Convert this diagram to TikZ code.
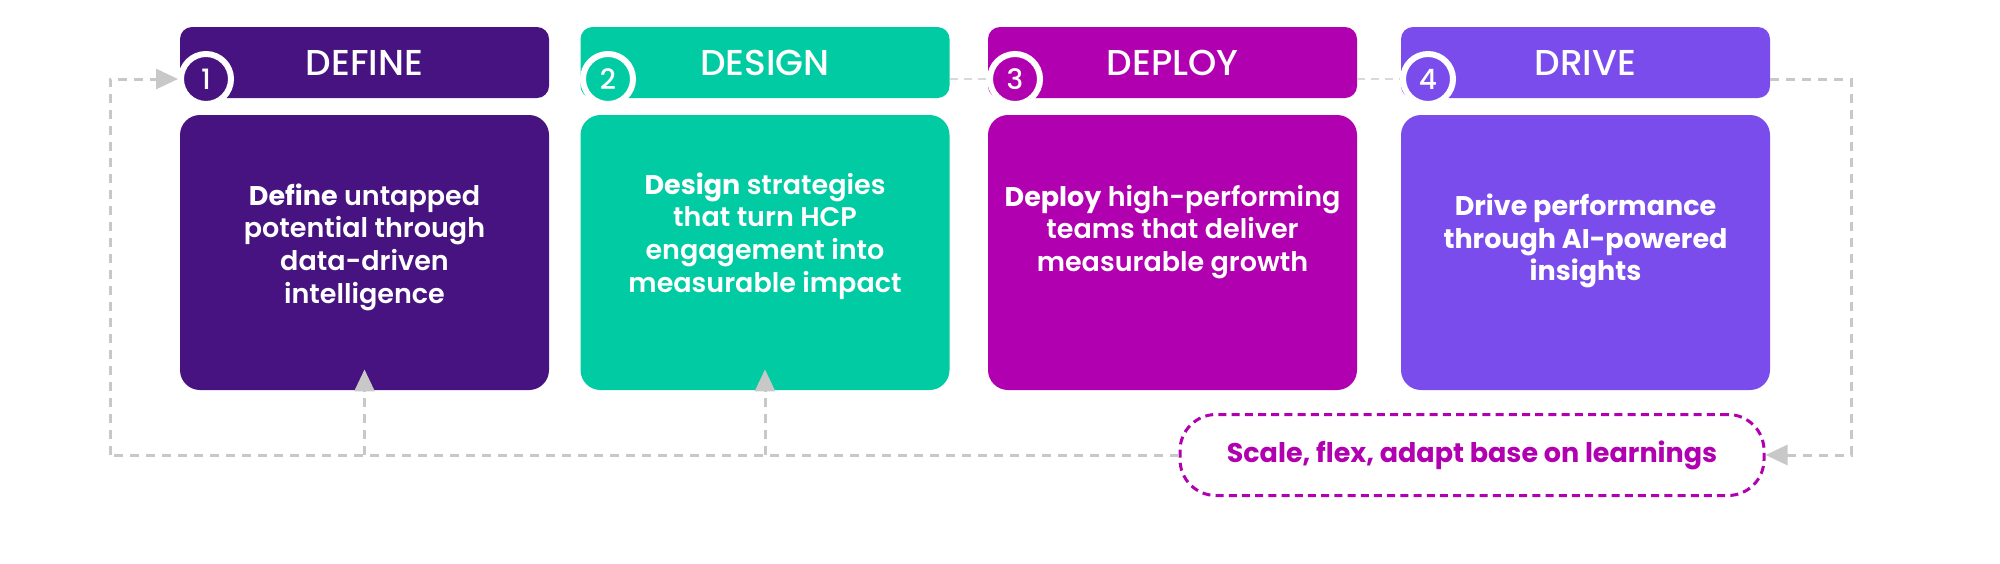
\documentclass[tikz,border=0pt]{standalone}
\usepackage{fontspec}
\IfFontExistsTF{Poppins SemiBold}
  {\setmainfont{Poppins}[UprightFont=* SemiBold, BoldFont=* Bold]}
  {\setmainfont{Poppins}}
\IfFontExistsTF{Poppins Medium}
  {\newfontfamily\medfont{Poppins}[UprightFont=* Medium, BoldFont=* Bold]}
  {\newfontfamily\medfont{Poppins}}
\usetikzlibrary{arrows.meta}

\definecolor{cdefine}{HTML}{461380}
\definecolor{cdesign}{HTML}{00CBA2}
\definecolor{cdeploy}{HTML}{B100AF}
\definecolor{cdrive}{HTML}{7A4CEC}
\definecolor{linegray}{HTML}{C8C8C8}

\begin{document}
\begin{tikzpicture}[x=0.5pt, y=-0.5pt,
    head/.style={rectangle, rounded corners=6pt, minimum width=184.5pt, minimum height=35.5pt, inner sep=0pt, text=white, font=\medfont\fontsize{18}{20}\selectfont},
    body/.style={rectangle, rounded corners=10pt, minimum width=184.5pt, minimum height=137.5pt, inner sep=0pt},
    bodytext/.style={align=center, text=white, font=\fontsize{13.5}{16.3}\selectfont},
    num/.style={circle, draw=white, line width=3pt, minimum size=25pt, inner sep=0pt, text=white, font=\medfont\fontsize{14}{14}\selectfont},
    loopbox/.style={rectangle, draw=cdeploy, line width=1.5pt, dash pattern=on 4pt off 2.6pt, rounded corners=18pt, minimum width=292pt, minimum height=40.5pt, text=cdeploy, font=\bfseries\fontsize{13.5}{16}\selectfont},
    loopline/.style={draw=linegray, line width=1.5pt, dash pattern=on 4.5pt off 3.5pt},
    tip/.style={-{Triangle[length=11pt,width=10pt]}, linegray},
    thinlink/.style={draw=linegray!70, line width=0.6pt, dash pattern=on 4pt off 3pt}
]
\useasboundingbox (0,0) rectangle (2000,563);

% body boxes
\node[body, fill=cdefine] (B1) at (364.5,252.5) {};
\node[body, fill=cdesign] (B2) at (765,252.5) {};
\node[body, fill=cdeploy] (B3) at (1172.5,252.5) {};
\node[body, fill=cdrive] (B4) at (1585.5,252.5) {};

\node[bodytext] (T1) at (364.5,247) {\textbf{Define} untapped\\potential through\\data-driven\\intelligence};
\node[bodytext] (T2) at (765,236) {\textbf{Design} strategies\\that turn HCP\\engagement into\\measurable impact};
\node[bodytext] (T3) at (1172.5,232) {\textbf{Deploy} high-performing\\teams that deliver\\measurable growth};
\node[bodytext] (T4) at (1585.5,241) {\textbf{Drive performance}\\\textbf{through AI-powered}\\\textbf{insights}};

% header boxes
\node[head, fill=cdefine] (H1) at (364.5,62.5) {DEFINE};
\node[head, fill=cdesign] (H2) at (765,62.5) {DESIGN};
\node[head, fill=cdeploy] (H3) at (1172.5,62.5) {DEPLOY};
\node[head, fill=cdrive] (H4) at (1585.5,62.5) {DRIVE};

% step numbers
\node[num, fill=cdefine] (C1) at (206,79) {1};
\node[num, fill=cdesign] (C2) at (608,79) {2};
\node[num, fill=cdeploy] (C3) at (1015,79) {3};
\node[num, fill=cdrive] (C4) at (1428,79) {4};

% feedback loop
\node[loopbox] (L) at (1472,455) {Scale, flex, adapt base on learnings};
\coordinate (RT) at (1851,79);
\coordinate (LB) at (110,455);

\draw[thinlink] (C3 -| H2.east) -- (C3);
\draw[thinlink] (C4 -| H3.east) -- (C4);

\draw[loopline, tip] (RT -| H4.east) -- (RT) -- (RT |- L) -- (L.east);
\draw[loopline] (L.west) -- (LB);
\draw[loopline, tip] (LB) -- (LB |- C1) -- (C1);
\draw[loopline, tip, shorten >=-10.5pt] (B1.south |- LB) -- (B1.south);
\draw[loopline, tip, shorten >=-10.5pt] (B2.south |- LB) -- (B2.south);

\end{tikzpicture}
\end{document}
